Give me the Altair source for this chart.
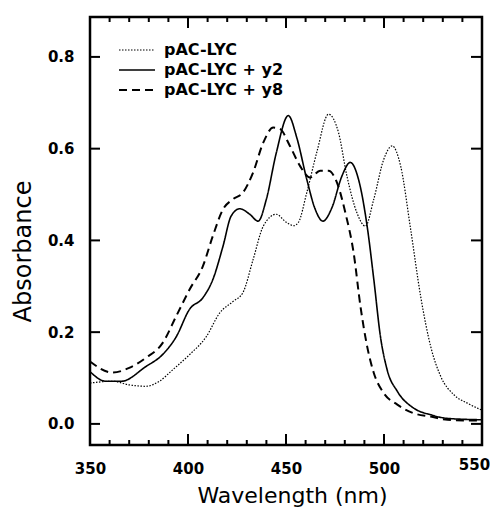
import altair as alt
import pandas as pd

# pAC-LYC (dotted)
wl_a = [350, 361.5, 370, 378.5, 385.4, 392.2, 400.8, 409.3, 416.2, 423, 428, 433.2, 438.4, 445, 450, 454, 456.3,
        460.6, 465.7, 471.7, 476.8, 481.1, 486.2, 490.5, 494.8, 499.9, 504.2, 508.5, 513.6, 518.7, 523.8, 529,
        535.8, 542.6, 550]
ab_a = [0.089, 0.093, 0.085, 0.082, 0.093, 0.118, 0.151, 0.19, 0.242, 0.267, 0.286, 0.358, 0.431, 0.457, 0.44, 0.432, 0.439,
        0.504, 0.592, 0.675, 0.635, 0.54, 0.46, 0.431, 0.49, 0.577, 0.606, 0.562, 0.424, 0.278, 0.169, 0.103,
        0.063, 0.045, 0.03]

# pAC-LYC + y2 (solid)
wl_b = [350, 358, 366, 378.5, 387, 394, 400.8, 407.6, 412.7, 417.9, 422, 426.4, 431.5, 435.8, 440, 445, 451.2,
        455.5, 460.6, 464.9, 468.8, 473.4, 478.5, 482.8, 487, 491.4, 494.8, 498.2, 501.6, 506.8, 515.3, 523.8,
        532.4, 550]
ab_b = [0.114, 0.093, 0.093, 0.125, 0.151, 0.19, 0.25, 0.275, 0.315, 0.388, 0.453, 0.469, 0.457, 0.442, 0.49, 0.59, 0.672,
        0.624, 0.533, 0.468, 0.442, 0.471, 0.54, 0.57, 0.533, 0.431, 0.315, 0.19, 0.118, 0.071, 0.034, 0.02,
        0.012, 0.009]

# pAC-LYC + y8 (dashed)
wl_c = [350, 361.5, 370, 378.5, 387, 394, 400.8, 407.6, 412.7, 417.9, 423, 428, 433.2, 438.4, 443.5, 446.9, 452,
        457.2, 462.3, 467.4, 471.7, 476, 480.3, 484.5, 488, 491.4, 494.8, 499.9, 506.8, 515.3, 523.8, 532.4, 550]
ab_c = [0.136, 0.112, 0.122, 0.144, 0.176, 0.235, 0.293, 0.344, 0.41, 0.468, 0.49, 0.504, 0.548, 0.613, 0.646, 0.643, 0.606,
        0.562, 0.537, 0.552, 0.552, 0.526, 0.46, 0.373, 0.256, 0.169, 0.111, 0.067, 0.042, 0.023, 0.016, 0.009, 0.007]

series = ["pAC-LYC", "pAC-LYC + y2", "pAC-LYC + y8"]

x_ticks_minor = [v for v in range(360, 550, 10) if v not in (400, 450, 500)]
x_ticks_major = [400, 450, 500]
y_ticks = [0.0, 0.2, 0.4, 0.6, 0.8]
x_labels = [350, 400, 450, 500, 550]

W, H = 392, 428
FONT = "DejaVu Sans"

rows = []
for name, xs, ys in zip(series, [wl_a, wl_b, wl_c], [ab_a, ab_b, ab_c]):
    for xv, yv in zip(xs, ys):
        rows.append({"wl": xv, "ab": yv, "series": name})
df = pd.DataFrame(rows)

xscale = alt.Scale(domain=[350, 550], nice=False)
yscale = alt.Scale(domain=[-0.046, 0.887], nice=False)

legend = alt.Legend(title=None, orient="none", legendX=28, legendY=23, padding=0,
                    symbolType="stroke", symbolSize=1296, symbolStrokeColor="black",
                    clipHeight=20, rowPadding=0,
                    labelFont=FONT, labelFontSize=16, labelFontWeight="bold",
                    labelColor="black", labelOffset=8)

lines = alt.Chart(df).mark_line(color="black", interpolate="monotone").encode(
    x=alt.X("wl:Q", scale=xscale,
            axis=alt.Axis(title="Wavelength (nm)", values=x_labels, tickSize=0, domain=False, grid=False,
                          labelFlush=False,
                          labelPadding={"condition": {"test": "datum.value == 550", "value": 12}, "value": 16},
                          labelOffset={"condition": {"test": "datum.value == 550", "value": -8}, "value": 0},
                          labelFont=FONT, labelFontSize=15,
                          labelFontWeight="bold", labelColor="black", titleFont=FONT, titleFontSize=22,
                          titleFontWeight="normal", titleColor="black", titlePadding=9, titleX=202)),
    y=alt.Y("ab:Q", scale=yscale,
            axis=alt.Axis(title="Absorbance", values=y_ticks, format=".1f", tickSize=0, domain=False, grid=False,
                          labelFlush=False, labelPadding=16, labelFont=FONT, labelFontSize=15,
                          labelFontWeight="bold", labelColor="black", titleFont=FONT, titleFontSize=24,
                          titleFontWeight="normal", titleColor="black", titlePadding=12, titleY=234)),
    strokeDash=alt.StrokeDash("series:N",
                              scale=alt.Scale(domain=series, range=[[1.5, 1.5], [1, 0], [8, 5]]),
                              legend=legend),
    strokeWidth=alt.StrokeWidth("series:N",
                                scale=alt.Scale(domain=series, range=[1.2, 2, 2]),
                                legend=legend),
    order=alt.Order("wl:Q"),
)

minor_df = pd.DataFrame({"t": x_ticks_minor})
major_df = pd.DataFrame({"t": x_ticks_major})
yt_df = pd.DataFrame({"t": y_ticks})


def xtick(data, length):
    bottom = alt.Chart(data).mark_rule(color="black", strokeWidth=2).encode(
        x=alt.X("t:Q", scale=xscale), y=alt.value(H), y2=alt.value(H - length))
    top = alt.Chart(data).mark_rule(color="black", strokeWidth=2).encode(
        x=alt.X("t:Q", scale=xscale), y=alt.value(0), y2=alt.value(length))
    return bottom + top


left = alt.Chart(yt_df).mark_rule(color="black", strokeWidth=2).encode(
    y=alt.Y("t:Q", scale=yscale), x=alt.value(0), x2=alt.value(10))
right = alt.Chart(yt_df).mark_rule(color="black", strokeWidth=2).encode(
    y=alt.Y("t:Q", scale=yscale), x=alt.value(W), x2=alt.value(W - 11))

chart = alt.layer(lines, xtick(minor_df, 5), xtick(major_df, 11), left, right).properties(
    width=W, height=H,
    autosize=alt.AutoSizeParams(type="none"),
    padding={"left": 82, "top": 9, "right": 8, "bottom": 67},
    background="white",
).configure_view(stroke="black", strokeWidth=2.5)

chart.save("out.html", embed_options={"renderer": "svg", "actions": False})
